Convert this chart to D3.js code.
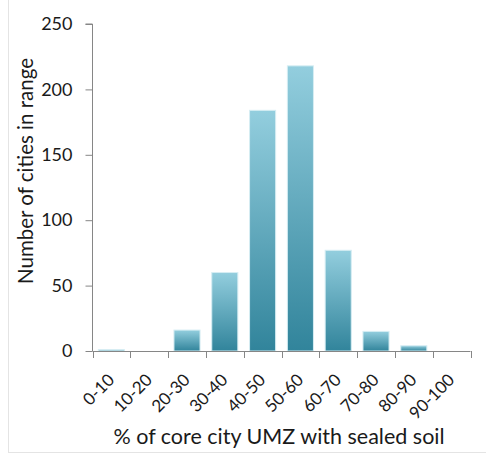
<!DOCTYPE html>
<html>
<head>
<meta charset="utf-8">
<script src="https://cdn.jsdelivr.net/npm/d3@7"></script>
<style>
  body { margin: 0; background: #fff; }
  text { font-family: Lato, "Open Sans", sans-serif; fill: #1a1a1a; }
</style>
</head>
<body>
<div id="chart"></div>
<script>
// data
var ranges = ['0-10', '10-20', '20-30', '30-40', '40-50', '50-60', '60-70', '70-80', '80-90', '90-100'];
var cityCounts = [1, 0, 16, 60, 184, 218, 77, 15, 4, 0];
var yTicks = [0, 50, 100, 150, 200, 250];

var width = 486, height = 455;
var margin = {top: 24, right: 15.5, bottom: 104, left: 92.5};

var svg = d3.select('#chart').append('svg')
  .attr('width', width).attr('height', height);

// faint frame lines of the original picture
svg.append('line').attr('x1', 8.5).attr('x2', 8.5).attr('y1', 0).attr('y2', 452)
  .attr('stroke', '#e4e4e4');
svg.append('line').attr('x1', 8).attr('x2', width).attr('y1', 452.5).attr('y2', 452.5)
  .attr('stroke', '#e4e4e4');

var defs = svg.append('defs');
var grad = defs.append('linearGradient')
  .attr('id', 'barGrad').attr('x1', 0).attr('y1', 0).attr('x2', 0).attr('y2', 1);
grad.append('stop').attr('offset', '0%').attr('stop-color', '#93cede');
grad.append('stop').attr('offset', '100%').attr('stop-color', '#31849b');

var x = d3.scaleBand()
  .domain(ranges)
  .range([margin.left, width - margin.right])
  .paddingInner(0.31)
  .paddingOuter(0.155);

var y = d3.scaleLinear()
  .domain([0, 250])
  .range([height - margin.bottom, margin.top]);

// bars
svg.selectAll('rect.bar').data(cityCounts).enter()
  .append('rect')
  .attr('class', 'bar')
  .attr('x', function(d, i){ return x(ranges[i]); })
  .attr('y', function(d){ return y(d); })
  .attr('width', x.bandwidth())
  .attr('height', function(d){ return y(0) - y(d); })
  .attr('fill', 'url(#barGrad)')
  .attr('stroke', function(d){ return d > 0 ? '#d6edf3' : 'none'; })
  .attr('stroke-width', 1);

// y axis
var yAxis = d3.axisLeft(y).tickValues(yTicks).tickSize(7).tickPadding(13);
var gy = svg.append('g')
  .attr('transform', 'translate(' + margin.left + ',0)')
  .call(yAxis);
gy.select('.domain').attr('stroke', '#868686').attr('d', 'M-7,' + y(250) + 'H0V' + y(0));
gy.selectAll('.tick line').attr('stroke', '#868686');
gy.selectAll('.tick text').style('font-size', '18px').attr('fill', '#1a1a1a');

// x axis: ticks on band edges like the original
var gx = svg.append('g')
  .attr('transform', 'translate(0,' + y(0) + ')');
gx.append('line')
  .attr('x1', margin.left).attr('x2', width - margin.right)
  .attr('y1', 0.5).attr('y2', 0.5)
  .attr('stroke', '#868686');
var edges = ranges.map(function(r){ return x(r) - x.step() * x.paddingInner() / 2; });
edges.push(width - margin.right);
gx.selectAll('line.edge').data(edges).enter()
  .append('line')
  .attr('class', 'edge')
  .attr('x1', function(d){ return Math.round(d) + 0.5; })
  .attr('x2', function(d){ return Math.round(d) + 0.5; })
  .attr('y1', 0).attr('y2', 7)
  .attr('stroke', '#868686');

gx.selectAll('text.lbl').data(ranges).enter()
  .append('text')
  .attr('class', 'lbl')
  .attr('text-anchor', 'end')
  .style('font-size', '17px')
  .attr('transform', function(d){
    return 'translate(' + (x(d) + x.bandwidth() / 2 + 4) + ',30) rotate(-45)';
  })
  .text(function(d){ return d; });

// axis titles
svg.append('text')
  .attr('x', 279).attr('y', 444)
  .attr('text-anchor', 'middle')
  .style('font-size', '21.5px')
  .text('% of core city UMZ with sealed soil');

svg.append('text')
  .attr('transform', 'translate(33,171) rotate(-90)')
  .attr('text-anchor', 'middle')
  .style('font-size', '20.5px')
  .text('Number of cities in range');
</script>
</body>
</html>
